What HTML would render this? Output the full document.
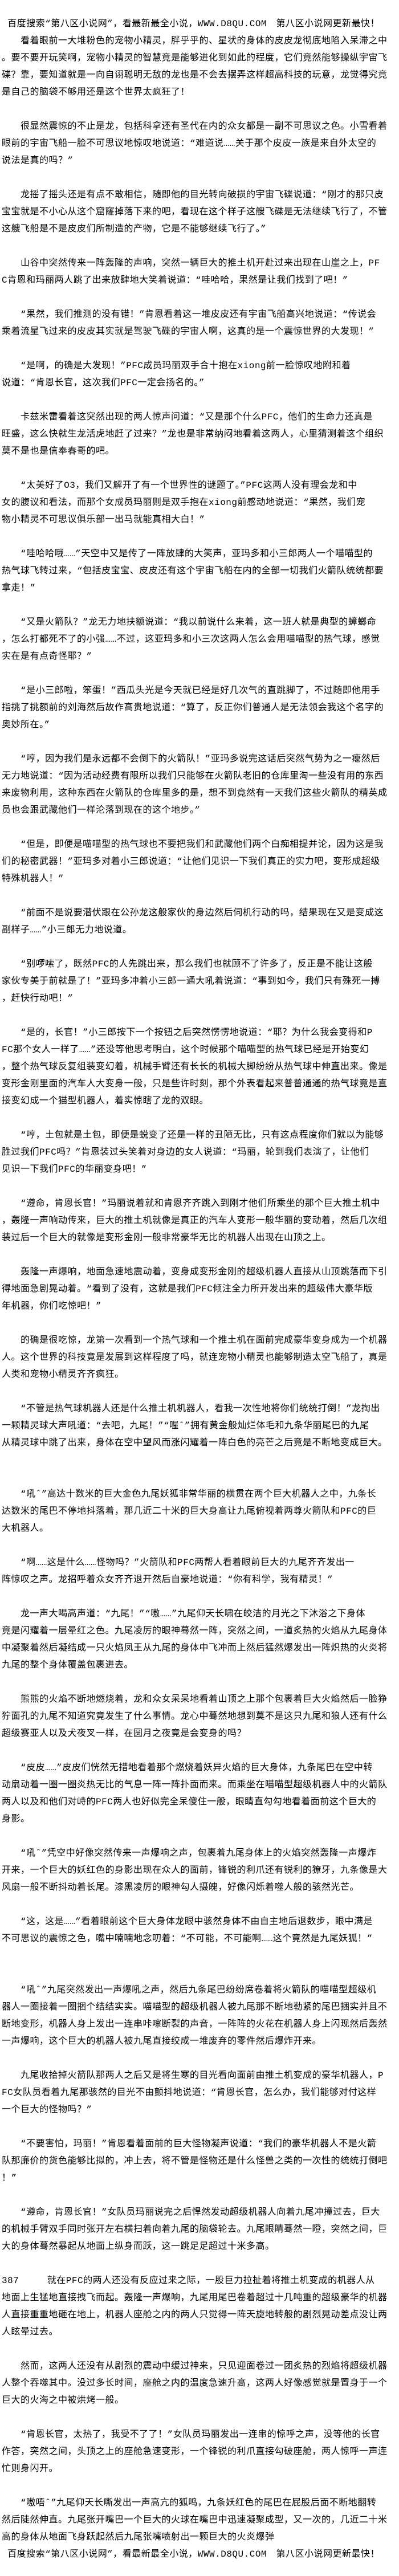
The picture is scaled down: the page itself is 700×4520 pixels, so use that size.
<!DOCTYPE html>
<html>
<head>
<meta charset="utf-8">
<style>
html,body{margin:0;padding:0;background:#fff;}
body{width:700px;height:4520px;overflow:hidden;}
#c{padding-top:27px;padding-left:3px;color:#000;font-family:"Liberation Mono","Noto Sans CJK SC",monospace;font-size:16px;letter-spacing:0.5px;}
#c p{margin:0;height:30px;line-height:30px;white-space:pre;}
</style>
</head>
<body>
<div id="c">
<p> 百度搜索“第八区小说网”，看最新最全小说，WWW.D8QU.COM　第八区小说网更新最快！</p>
<p>　　看着眼前一大堆粉色的宠物小精灵，胖乎乎的、星状的身体的皮皮龙彻底地陷入呆滞之中</p>
<p>。要不要开玩笑啊，宠物小精灵的智慧竟是能够进化到如此的程度，它们竟然能够操纵宇宙飞</p>
<p>碟？靠，要知道就是一向自诩聪明无敌的龙也是不会去摆弄这样超高科技的玩意，龙觉得究竟</p>
<p>是自己的脑袋不够用还是这个世界太疯狂了！</p>
<p></p>
<p>　　很显然震惊的不止是龙，包括科拿还有圣代在内的众女都是一副不可思议之色。小雪看着</p>
<p>眼前的宇宙飞船一脸不可思议地惊叹地说道：“难道说……关于那个皮皮一族是来自外太空的</p>
<p>说法是真的吗？”</p>
<p></p>
<p>　　龙摇了摇头还是有点不敢相信，随即他的目光转向破损的宇宙飞碟说道：“刚才的那只皮</p>
<p>宝宝就是不小心从这个窟窿掉落下来的吧，看现在这个样子这艘飞碟是无法继续飞行了，不管</p>
<p>这艘飞船是不是皮皮们所制造的产物，它是不能够继续飞行了。”</p>
<p></p>
<p>　　山谷中突然传来一阵轰隆的声响，突然一辆巨大的推土机开赴过来出现在山崖之上，PF</p>
<p>C肯恩和玛丽两人跳了出来放肆地大笑着说道：“哇哈哈，果然是让我们找到了吧！”</p>
<p></p>
<p>　　“果然，我们推测的没有错！”肯恩看着这一堆皮皮还有宇宙飞船高兴地说道：“传说会</p>
<p>乘着流星飞过来的皮皮其实就是驾驶飞碟的宇宙人啊，这真的是一个震惊世界的大发现！”</p>
<p></p>
<p>　　“是啊，的确是大发现！”PFC成员玛丽双手合十抱在xiong前一脸惊叹地附和着</p>
<p>说道：“肯恩长官，这次我们PFC一定会扬名的。”</p>
<p></p>
<p>　　卡兹米雷看着这突然出现的两人惊声问道：“又是那个什么PFC，他们的生命力还真是</p>
<p>旺盛，这么快就生龙活虎地赶了过来？”龙也是非常纳闷地看着这两人，心里猜测着这个组织</p>
<p>莫不是也是信奉春哥的吧。</p>
<p></p>
<p>　　“太美好了O3，我们又解开了有一个世界性的谜题了。”PFC这两人没有理会龙和中</p>
<p>女的腹议和看法，而那个女成员玛丽则是双手抱在xiong前感动地说道：“果然，我们宠</p>
<p>物小精灵不可思议俱乐部一出马就能真相大白！”</p>
<p></p>
<p>　　“哇哈哈哦……”天空中又是传了一阵放肆的大笑声，亚玛多和小三郎两人一个喵喵型的</p>
<p>热气球飞转过来，“包括皮宝宝、皮皮还有这个宇宙飞船在内的全部一切我们火箭队统统都要</p>
<p>拿走！”</p>
<p></p>
<p>　　“又是火箭队？”龙无力地扶额说道：“我以前说什么来着，这一班人就是典型的蟑螂命</p>
<p>，怎么打都死不了的小强……不过，这亚玛多和小三次这两人怎么会用喵喵型的热气球，感觉</p>
<p>实在是有点奇怪耶？”</p>
<p></p>
<p>　　“是小三郎啦，笨蛋！”西瓜头光是今天就已经是好几次气的直跳脚了，不过随即他用手</p>
<p>指挑了挑额前的刘海然后故作高贵地说道：“算了，反正你们普通人是无法领会我这个名字的</p>
<p>奥妙所在。”</p>
<p></p>
<p>　　“哼，因为我们是永远都不会倒下的火箭队！”亚玛多说完这话后突然气势为之一瘪然后</p>
<p>无力地说道：“因为活动经费有限所以我们只能够在火箭队老旧的仓库里淘一些没有用的东西</p>
<p>来废物利用，这种东西在火箭队的仓库里多的是，想不到竟然有一天我们这些火箭队的精英成</p>
<p>员也会跟武藏他们一样沦落到现在的这个地步。”</p>
<p></p>
<p>　　“但是，即便是喵喵型的热气球也不要把我们和武藏他们两个白痴相提并论，因为这是我</p>
<p>们的秘密武器！”亚玛多对着小三郎说道：“让他们见识一下我们真正的实力吧，变形成超级</p>
<p>特殊机器人！”</p>
<p></p>
<p>　　“前面不是说要潜伏跟在公孙龙这般家伙的身边然后伺机行动的吗，结果现在又是变成这</p>
<p>副样子……”小三郎无力地说道。</p>
<p></p>
<p>　　“别啰嗦了，既然PFC的人先跳出来，那么我们也就顾不了许多了，反正是不能让这般</p>
<p>家伙专美于前就是了！”亚玛多冲着小三郎一通大吼着说道：“事到如今，我们只有殊死一搏</p>
<p>，赶快行动吧！”</p>
<p></p>
<p>　　“是的，长官！”小三郎按下一个按钮之后突然愣愣地说道：“耶？为什么我会变得和P</p>
<p>FC那个女人一样了……”还没等他思考明白，这个时候那个喵喵型的热气球已经是开始变幻</p>
<p>，整个热气球反复组装变幻着，机械手臂还有长长的机械大脚纷纷从热气球中伸直出来。像是</p>
<p>变形金刚里面的汽车人大变身一般，只是些许时刻，那个外表看起来普普通通的热气球竟是直</p>
<p>接变幻成一个猫型机器人，着实惊瞎了龙的双眼。</p>
<p></p>
<p>　　“哼，土包就是土包，即便是蜕变了还是一样的丑陋无比，只有这点程度你们就以为能够</p>
<p>胜过我们PFC吗？”肯恩装过头笑着对身边的女人说道：“玛丽，轮到我们表演了，让他们</p>
<p>见识一下我们PFC的华丽变身吧！”</p>
<p></p>
<p>　　“遵命，肯恩长官！”玛丽说着就和肯恩齐齐跳入到刚才他们所乘坐的那个巨大推土机中</p>
<p>，轰隆一声响动传来，巨大的推土机就像是真正的汽车人变形一般华丽的变动着，然后几次组</p>
<p>装过后一个巨大的就像是变形金刚一般非常豪华无比的机器人出现在山顶之上。</p>
<p></p>
<p>　　轰隆一声爆响，地面急速地震动着，变身成变形金刚的超级机器人直接从山顶跳落而下引</p>
<p>得地面急剧晃动着。“看到了没有，这就是我们PFC倾注全力所开发出来的超级伟大豪华版</p>
<p>年机器，你们吃惊吧！”</p>
<p></p>
<p>　　的确是很吃惊，龙第一次看到一个热气球和一个推土机在面前完成豪华变身成为一个机器</p>
<p>人。这个世界的科技竟是发展到这样程度了吗，就连宠物小精灵也能够制造太空飞船了，真是</p>
<p>人类和宠物小精灵齐齐疯狂。</p>
<p></p>
<p>　　“不管是热气球机器人还是什么推土机机器人，看我一次性地将你们统统打倒！”龙掏出</p>
<p>一颗精灵球大声吼道：“去吧，九尾！”“喔ˆ”拥有黄金般灿烂体毛和九条华丽尾巴的九尾</p>
<p>从精灵球中跳了出来，身体在空中望风而涨闪耀着一阵白色的亮芒之后竟是不断地变成巨大。</p>
<p></p>
<p></p>
<p>　　“吼ˆ”高达十数米的巨大金色九尾妖狐非常华丽的横贯在两个巨大机器人之中，九条长</p>
<p>达数米的尾巴不停地抖落着，那几近二十米的巨大身高让九尾俯视着两尊火箭队和PFC的巨</p>
<p>大机器人。</p>
<p></p>
<p>　　“啊……这是什么……怪物吗？”火箭队和PFC两帮人看着眼前巨大的九尾齐齐发出一</p>
<p>阵惊叹之声。龙招呼着众女齐齐退开然后自豪地说道：“你有科学，我有精灵！”</p>
<p></p>
<p>　　龙一声大喝高声道：“九尾！”“嗷……”九尾仰天长啸在皎洁的月光之下沐浴之下身体</p>
<p>竟是闪耀着一层晕红之色。九尾凌厉的眼神蓦然一阵，突然之间，一道炙热的火焰从九尾身体</p>
<p>中凝聚着然后凝结成一只火焰凤王从九尾的身体中飞冲而上然后猛然爆发出一阵炽热的火炎将</p>
<p>九尾的整个身体覆盖包裹进去。</p>
<p></p>
<p>　　熊熊的火焰不断地燃烧着，龙和众女呆呆地看着山顶之上那个包裹着巨大火焰然后一脸狰</p>
<p>狞面孔的九尾不知道究竟发生了什么事情。龙心中蓦然地想到莫不是这只九尾和狼人还有什么</p>
<p>超级赛亚人以及犬夜叉一样，在圆月之夜竟是会变身的吗？</p>
<p></p>
<p>　　“皮皮……”皮皮们恍然无措地看着那个燃烧着妖异火焰的巨大身体，九条尾巴在空中转</p>
<p>动扇动着一圈一圈炎热无比的气息一阵一阵扑面而来。而乘坐在喵喵型超级机器人中的火箭队</p>
<p>两人以及和他们对峙的PFC两人也好似完全呆傻住一般，眼睛直勾勾地看着面前这个巨大的</p>
<p>身影。</p>
<p></p>
<p>　　“吼ˆ”凭空中好像突然传来一声爆响之声，包裹着九尾身体上的火焰突然轰隆一声爆炸</p>
<p>开来，一个巨大的妖红色的身影出现在众人的面前，锋锐的利爪还有锐利的獠牙，九条像是大</p>
<p>风扇一般不断抖动着长尾。漆黑凌厉的眼神勾人摄魄，好像闪烁着噬人般的骇然光芒。</p>
<p></p>
<p>　　“这，这是……”看着眼前这个巨大身体龙眼中骇然身体不由自主地后退数步，眼中满是</p>
<p>不可思议的震惊之色，嘴中喃喃地念叨着：“不可能，不可能啊……这个竟然是九尾妖狐！”</p>
<p></p>
<p></p>
<p>　　“吼ˆ”九尾突然发出一声爆吼之声，然后九条尾巴纷纷席卷着将火箭队的喵喵型超级机</p>
<p>器人一圈接着一圈捆个结结实实。喵喵型的超级机器人被九尾那不断地勒紧的尾巴捆实并且不</p>
<p>断地变形，机器人身上发出一连串咔嚓断裂的声音，一阵阵的火花在机器人身上闪现然后轰然</p>
<p>一声爆响，这个巨大的机器人被九尾直接绞成一堆废弃的零件然后爆炸开来。</p>
<p></p>
<p>　　九尾收拾掉火箭队那两人之后又是将生寒的目光看向面前由推土机变成的豪华机器人，P</p>
<p>FC女队员看着九尾那骇然的目光不由颤抖地说道：“肯恩长官，怎么办，我们能够对付这样</p>
<p>一个巨大的怪物吗？”</p>
<p></p>
<p>　　“不要害怕，玛丽！”肯恩看着面前的巨大怪物凝声说道：“我们的豪华机器人不是火箭</p>
<p>队那廉价的货色能够比拟的，冲上去，将不管是怪物还是什么怪兽之类的一次性的统统打倒吧</p>
<p>！”</p>
<p></p>
<p>　　“遵命，肯恩长官！”女队员玛丽说完之后悍然发动超级机器人向着九尾冲撞过去，巨大</p>
<p>的机械手臂双手同时张开左右横扫着向着九尾的脑袋轮去。九尾眼睛蓦然一瞪，突然之间，巨</p>
<p>大的身体蓦然暴起从地面上纵身而跃，这一跳足足超过十米多高。</p>
<p></p>
<p>387　　　就在PFC的两人还没有反应过来之际，一股巨力拉扯着将推土机变成的机器人从</p>
<p>地面上生猛地直接拽飞而起。轰隆一声爆响，九尾用尾巴卷着超过十几吨重的超级豪华的机器</p>
<p>人直接重重地砸在地上，机器人座舱之内的两人只觉得一阵天旋地转般的剧烈晃动差点没让两</p>
<p>人眩晕过去。</p>
<p></p>
<p>　　然而，这两人还没有从剧烈的震动中缓过神来，只见迎面卷过一团炙热的烈焰将超级机器</p>
<p>人整个吞噬其中。没过多长时间，座舱之内的温度急速升高，这两人好像感觉就是置身于一个</p>
<p>巨大的火海之中被烘烤一般。</p>
<p></p>
<p>　　“肯恩长官，太热了，我受不了了！”女队员玛丽发出一连串的惊呼之声，没等他的长官</p>
<p>作答，突然之间，头顶之上的座舱急速变形，一个锋锐的利爪直接勾破座舱，两人惊呼一声连</p>
<p>忙则身闪开。</p>
<p></p>
<p>　　“嗷唔ˆ”九尾仰天长嘶发出一声高亢的狐鸣，九条妖红色的尾巴在屁股后面不断地翻转</p>
<p>然后陡然伸直。九尾张开嘴巴一个巨大的火球在嘴巴中迅速凝聚成型，又一次的，几近二十米</p>
<p>高的身体从地面飞身跃起然后九尾张嘴喷射出一颗巨大的火炎爆弹</p>
<p> 百度搜索“第八区小说网”，看最新最全小说，WWW.D8QU.COM　第八区小说网更新最快！</p>
</div>
</body>
</html>
